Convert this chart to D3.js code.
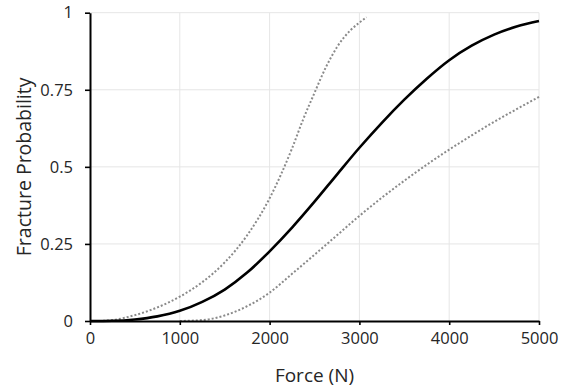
<!DOCTYPE html>
<html>
<head>
<meta charset="utf-8">
<script src="https://cdn.jsdelivr.net/npm/d3@7"></script>
<style>
  html, body { margin: 0; padding: 0; background: #fff; }
  svg text { font-family: 'Open Sans', 'Liberation Sans', sans-serif; fill: #262626; }
</style>
</head>
<body>
<svg id="chart"></svg>
<script>
// force (N) and fracture probability
const mainForce = [0, 250, 500, 750, 1000, 1250, 1500, 1750, 2000, 2250, 2500, 2750, 3000, 3250, 3500, 3750, 4000, 4250, 4500, 4750, 5000];
const mainProb = [0, 0.0007, 0.005, 0.015, 0.033, 0.062, 0.102, 0.157, 0.226, 0.303, 0.387, 0.475, 0.562, 0.643, 0.718, 0.786, 0.846, 0.893, 0.929, 0.955, 0.973];

const upperForce = [100, 250, 500, 750, 1000, 1250, 1500, 1750, 2000, 2250, 2375, 2500, 2625, 2750, 2900, 3000, 3080];
const upperProb = [0, 0.003, 0.019, 0.044, 0.079, 0.126, 0.19, 0.278, 0.398, 0.56, 0.655, 0.74, 0.822, 0.888, 0.943, 0.968, 0.985];

const lowerForce = [1000, 1250, 1500, 1750, 2000, 2250, 2500, 2750, 3000, 3250, 3500, 3750, 4000, 4250, 4500, 4750, 5000];
const lowerProb = [0, 0.003, 0.018, 0.048, 0.092, 0.153, 0.215, 0.278, 0.341, 0.4, 0.455, 0.507, 0.556, 0.602, 0.646, 0.687, 0.727];

const xTicks = [0, 1000, 2000, 3000, 4000, 5000];
const yTicks = [0, 0.25, 0.5, 0.75, 1];

const width = 564;
const height = 389;
const marginLeft = 90;
const marginRight = 25;
const marginTop = 12.7;
const marginBottom = 68;

const svg = d3.select('#chart').attr('width', width).attr('height', height).attr('viewBox', [0, 0, width, height]);

const x = d3.scaleLinear([0, 5000], [marginLeft, width - marginRight]);
const y = d3.scaleLinear([0, 1], [height - marginBottom, marginTop]);

/**
 * grid
 */
const grid = svg.append('g').attr('stroke', '#e6e6e6').attr('stroke-width', 1);
grid
  .selectAll('line.v')
  .data(xTicks.slice(1))
  .join('line')
  .attr('class', 'v')
  .attr('x1', (d) => x(d))
  .attr('x2', (d) => x(d))
  .attr('y1', y(0))
  .attr('y2', y(1));
grid
  .selectAll('line.h')
  .data(yTicks.slice(1))
  .join('line')
  .attr('class', 'h')
  .attr('x1', x(0))
  .attr('x2', x(5000))
  .attr('y1', (d) => y(d))
  .attr('y2', (d) => y(d));

/**
 * lines
 */
const line = d3
  .line()
  .curve(d3.curveMonotoneX)
  .x((d) => x(d[0]))
  .y((d) => y(d[1]));

const series = [
  { xs: upperForce, ys: upperProb, color: '#8a8a8a', width: 2, dash: '2,2' },
  { xs: lowerForce, ys: lowerProb, color: '#8a8a8a', width: 2, dash: '2,2' },
  { xs: mainForce, ys: mainProb, color: '#000', width: 2.6, dash: null },
];
series.forEach((s) => {
  svg
    .append('path')
    .attr('fill', 'none')
    .attr('stroke', s.color)
    .attr('stroke-width', s.width)
    .attr('stroke-dasharray', s.dash)
    .attr('stroke-linejoin', 'round')
    .attr('d', line(s.xs.map((v, i) => [v, s.ys[i]])));
});

/**
 * axes
 */
const xAxis = d3.axisBottom(x).tickValues(xTicks).tickSize(4).tickSizeOuter(0).tickPadding(7).tickFormat(d3.format('d'));
svg
  .append('g')
  .attr('transform', `translate(0,${y(0)})`)
  .call(xAxis)
  .call((g) => g.select('.domain').attr('stroke', '#000').attr('stroke-width', 2))
  .call((g) => g.selectAll('.tick line').attr('stroke', '#000').attr('stroke-width', 1.6))
  .call((g) => g.selectAll('.tick text').style('font-size', '16.5px').attr('fill', '#262626'));

const yAxis = d3.axisLeft(y).tickValues(yTicks).tickSize(5).tickSizeOuter(0).tickPadding(12).tickFormat((d) => String(d));
svg
  .append('g')
  .attr('transform', `translate(${x(0)},0)`)
  .call(yAxis)
  .call((g) => g.select('.domain').attr('stroke', '#000').attr('stroke-width', 2))
  .call((g) => g.selectAll('.tick line').attr('stroke', '#000').attr('stroke-width', 1.6))
  .call((g) => g.selectAll('.tick text').style('font-size', '16.5px').attr('fill', '#262626'));

/**
 * titles
 */
svg
  .append('text')
  .attr('x', (x(0) + x(5000)) / 2)
  .attr('y', 382)
  .attr('text-anchor', 'middle')
  .style('font-size', '19px')
  .text('Force (N)');

svg
  .append('text')
  .attr('transform', `translate(31,${(y(0) + y(1)) / 2}) rotate(-90)`)
  .attr('text-anchor', 'middle')
  .style('font-size', '19.5px')
  .text('Fracture Probability');
</script>
</body>
</html>
